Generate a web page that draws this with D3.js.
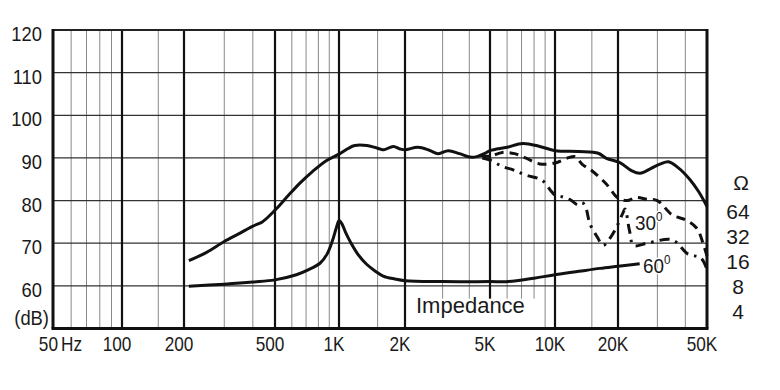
<!DOCTYPE html>
<html>
<head>
<meta charset="utf-8">
<script src="https://cdn.jsdelivr.net/npm/d3@7/dist/d3.min.js"></script>
<style>
  body { margin: 0; background: #fff; }
  svg text { font-family: "Liberation Sans", Arial, sans-serif; fill: #1a1a1a; }
</style>
</head>
<body>
<svg id="chart" width="780" height="390"></svg>
<script>
// axis values
var majorFreqs = [50, 100, 200, 500, 1000, 2000, 5000, 10000, 20000, 50000];
var freqLabels = ["50", "100", "200", "500", "1K", "2K", "5K", "10K", "20K", "50K"];
var minorFreqs = [60, 70, 80, 90, 150, 300, 400, 600, 700, 800, 900, 1500,
                  3000, 4000, 6000, 7000, 8000, 9000, 15000, 30000, 40000];
var dbTicks = [60, 70, 80, 90, 100, 110, 120];
var ohmTicks = [64, 32, 16, 8, 4];

// curves, [Hz, dB]
var onAxis = [[210,65.9],[250,67.8],[300,70.4],[350,72.3],[400,74],[440,75],[480,76.8],[510,78.2],
  [580,81.3],[655,84.1],[750,86.8],[875,89.4],[1010,91],[1100,92.2],[1180,92.9],[1340,92.9],
  [1450,92.5],[1540,92.1],[1600,91.9],[1770,92.7],[1900,92.1],[2000,91.9],[2300,92.5],[2600,91.8],
  [2860,91],[3190,91.7],[3600,91],[4030,90.2],[4340,90.3],[4700,91],[5000,91.7],[6000,92.5],
  [7100,93.4],[8500,92.7],[10000,91.7],[13000,91.5],[16100,91.1],[17600,89.9],[20400,88.9],
  [23000,87],[25100,86.4],[28000,87.5],[31000,88.6],[33600,89.1],[37000,87.8],[42000,84.9],
  [46000,82],[50000,78.6]];

var impedance = [[210,59.9],[300,60.4],[400,60.9],[500,61.4],[630,62.6],[720,63.8],[814,65.3],
  [880,67.5],[930,70.5],[970,73.5],[1000,75.3],[1030,74.6],[1070,72.6],[1130,70.2],[1220,67.4],
  [1340,65],[1460,63.5],[1590,62.3],[1800,61.6],[2000,61.2],[3000,61],[5000,61],[6100,61],
  [8000,61.8],[10000,62.6],[13000,63.4],[16400,64.1],[20000,64.6],[25000,65.2]];

var deg30 = [[4500,90.6],[5000,90.4],[5700,91.3],[6500,91],[7300,90],[8500,88.6],[10000,88.8],
  [11500,90],[12500,90.3],[13500,88.5],[15000,87],[17500,84],[20000,80.6],[22000,80],[24000,80.7],
  [27000,80.3],[30000,80],[35000,76.6],[40000,75.5],[45000,73.5],[48000,70],[50000,67]];

var deg60 = [[4600,90],[5000,89.5],[5700,88],[6400,87.2],[7300,86],[8700,84.8],[9500,82.5],
  [10000,81.3],[10800,80.9],[11800,80.2],[12900,79],[13500,79.5],[14000,78.5],[14700,74.5],
  [15900,71.5],[17000,69.5],[18500,71.5],[19700,73.8],[21000,77],[21500,78],[22500,73],
  [23500,69.5],[27000,70],[35000,70.8],[41000,67.5],[47000,66.5],[50000,63.8]];

var svg = d3.select("#chart");

// the printed grid is not a perfectly even log scale, so pin each major line
var x = d3.scaleLog()
  .domain(majorFreqs)
  .range([53, 122, 184, 275, 339, 405, 490, 555, 618, 707]);

var y = d3.scaleLinear()
  .domain([50, 120])
  .range([328.5, 30]);

var ohm = d3.scaleLog().base(2)
  .domain([4, 64])
  .range([311, 211]);

var grid = svg.append("g");

grid.selectAll("line.minor")
  .data(minorFreqs)
  .enter().append("line")
  .attr("class", "minor")
  .attr("x1", d => x(d)).attr("x2", d => x(d))
  .attr("y1", y(120)).attr("y2", y(50))
  .attr("stroke", "#8a8a8a")
  .attr("stroke-width", 1);

grid.selectAll("line.hgrid")
  .data(dbTicks.slice(0, -1))
  .enter().append("line")
  .attr("class", "hgrid")
  .attr("x1", x(50)).attr("x2", x(50000))
  .attr("y1", d => y(d)).attr("y2", d => y(d))
  .attr("stroke", "#333")
  .attr("stroke-width", 1.3);

grid.selectAll("line.major")
  .data(majorFreqs.slice(1, -1))
  .enter().append("line")
  .attr("class", "major")
  .attr("x1", d => x(d)).attr("x2", d => x(d))
  .attr("y1", y(120)).attr("y2", y(50))
  .attr("stroke", "#111")
  .attr("stroke-width", 2.2);

// white box behind the "Impedance" caption
grid.append("rect")
  .attr("x", 412).attr("y", y(57))
  .attr("width", 126).attr("height", y(50) - y(57) - 1.5)
  .attr("fill", "#fff");

// frame
grid.append("line")
  .attr("x1", x(50)).attr("x2", x(50000))
  .attr("y1", y(120)).attr("y2", y(120))
  .attr("stroke", "#222").attr("stroke-width", 2);
grid.append("line")
  .attr("x1", x(50) - 1.5).attr("x2", x(50000) + 1.5)
  .attr("y1", y(50)).attr("y2", y(50))
  .attr("stroke", "#111").attr("stroke-width", 3);
grid.append("line")
  .attr("x1", x(50)).attr("x2", x(50))
  .attr("y1", y(120) - 1).attr("y2", y(50))
  .attr("stroke", "#111").attr("stroke-width", 3);
grid.append("line")
  .attr("x1", x(50000)).attr("x2", x(50000))
  .attr("y1", y(120) - 1).attr("y2", y(50))
  .attr("stroke", "#111").attr("stroke-width", 3);

// curves
var line = d3.line()
  .x(d => x(d[0]))
  .y(d => y(d[1]))
  .curve(d3.curveCatmullRom.alpha(0.5));

function drawCurve(data, dash) {
  svg.append("path")
    .datum(data)
    .attr("d", line)
    .attr("fill", "none")
    .attr("stroke", "#111")
    .attr("stroke-width", 3)
    .attr("stroke-linejoin", "round")
    .attr("stroke-dasharray", dash);
}

drawCurve(deg30, "9,6");
drawCurve(deg60, "10,6,2.5,6");
drawCurve(impedance, null);
drawCurve(onAxis, null);

// left axis labels
svg.selectAll("text.db")
  .data(dbTicks)
  .enter().append("text")
  .attr("class", "db")
  .attr("transform", d => "translate(42," + (y(d) + 11) + ") scale(0.92,1)")
  .attr("text-anchor", "end")
  .attr("font-size", "20px")
  .text(d => d);

svg.append("text")
  .attr("transform", "translate(49,325) scale(0.92,1)")
  .attr("text-anchor", "end")
  .attr("font-size", "20px")
  .text("(dB)");

// bottom axis labels
svg.selectAll("text.freq")
  .data(freqLabels)
  .enter().append("text")
  .attr("class", "freq")
  .attr("transform", (d, i) => "translate(" + (i === 0 ? 58 : x(majorFreqs[i]) - 5) + ",351) scale(0.82,1)")
  .attr("text-anchor", (d, i) => i === 0 ? "end" : "middle")
  .attr("font-size", "21px")
  .text(d => d);

svg.append("text")
  .attr("transform", "translate(61,351) scale(0.82,1)")
  .attr("font-size", "21px")
  .text("Hz");

// impedance scale on the right
svg.append("text")
  .attr("x", 741).attr("y", 190)
  .attr("text-anchor", "middle")
  .attr("font-size", "21px")
  .text("\u03A9");

svg.selectAll("text.ohm")
  .data(ohmTicks)
  .enter().append("text")
  .attr("class", "ohm")
  .attr("x", 738)
  .attr("y", d => ohm(d) + 8)
  .attr("text-anchor", "middle")
  .attr("font-size", "21px")
  .text(d => d);

// curve captions
svg.append("text")
  .attr("x", 416).attr("y", 313)
  .attr("font-size", "22px")
  .text("Impedance");

function angleLabel(px, py, label) {
  var t = svg.append("text")
    .attr("transform", "translate(" + px + "," + py + ") scale(0.9,1)")
    .attr("font-size", "21px")
    .style("paint-order", "stroke")
    .attr("stroke", "#fff")
    .attr("stroke-width", 3);
  t.append("tspan").text(label);
  t.append("tspan").attr("dy", -9).attr("font-size", "13px").text("0");
}

angleLabel(635, 230, "30");
angleLabel(643, 273, "60");
</script>
</body>
</html>
